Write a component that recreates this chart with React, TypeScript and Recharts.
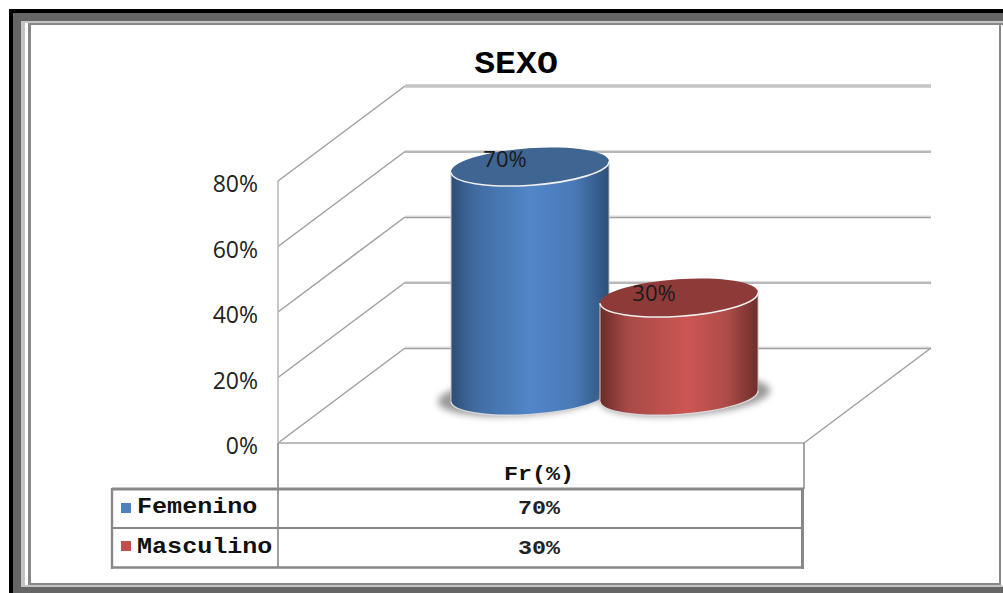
import { BarChart, Bar, XAxis, YAxis, CartesianGrid, LabelList } from 'recharts';

const categories = ['Fr(%)'];
const seriesNames = ['Femenino', 'Masculino'];
const femeninoValues = [70];
const masculinoValues = [30];
const yTicks = [0, 20, 40, 60, 80];

const chartData = categories.map((name, i) => ({
  name,
  Femenino: femeninoValues[i],
  Masculino: masculinoValues[i],
}));

const MONO = '"Liberation Mono", monospace';
const SANS = '"Open Sans", sans-serif';

// depth of the 3D box, measured from the front plane to the back wall
const WALL_DX = 127;
const WALL_DY = -95;
// cylinders stand in the middle of the floor
const CYL_DX = 63;
const CYL_DY = -47;
const TILT = -4;

const tiltRad = (TILT * Math.PI) / 180;

// horizontal grid line: runs up the side wall, then along the back wall
function WallLine({ y1 }: any) {
  const y = y1;
  const top = y < 200;
  const backY = y + WALL_DY;
  return (
    <g>
      <line x1={278} y1={y} x2={278 + WALL_DX} y2={backY} stroke="#a0a0a0" strokeWidth={1.5} />
      {top ? (
        <line x1={278 + WALL_DX} y1={backY} x2={804 + WALL_DX} y2={backY} stroke="#c4c4c4" strokeWidth={3.5} />
      ) : (
        <>
          <line x1={278 + WALL_DX} y1={backY - 1} x2={804 + WALL_DX} y2={backY - 1} stroke="#dcdcdc" strokeWidth={1} />
          <line x1={278 + WALL_DX} y1={backY + 0.5} x2={804 + WALL_DX} y2={backY + 0.5} stroke="#a0a0a0" strokeWidth={1.6} />
        </>
      )}
    </g>
  );
}

function ValueTick({ y, payload }: any) {
  return (
    <text x={258} y={y + 2} textAnchor="end" dominantBaseline="central" fontFamily={SANS} fontSize={23} fill="#222">
      {payload.value}%
    </text>
  );
}

// Liberation Mono is narrower than the slab mono used in the table, so it gets widened
function MonoText({ x, y, size, stretch, anchor = 'middle', fill = '#111', children }: any) {
  return (
    <text
      transform={`translate(${x} ${y}) scale(${stretch} 1)`}
      textAnchor={anchor}
      dominantBaseline="central"
      fontFamily={MONO}
      fontWeight="bold"
      fontSize={size}
      fill={fill}
    >
      {children}
    </text>
  );
}

function CategoryTick({ x, payload }: any) {
  return (
    <MonoText x={x - 2} y={475} size={20} stretch={1.167}>
      {payload.value}
    </MonoText>
  );
}

function Cylinder(props: any) {
  const { x, y, width, height, id, stops, cap, shadowDx } = props;
  const cx = x + width / 2 + CYL_DX;
  const topY = y + CYL_DY;
  const baseY = y + height + CYL_DY;
  const rx = width / 2 / Math.cos(tiltRad);
  const ry = 18.5;
  const rise = rx * Math.sin(tiltRad);
  const left = cx - width / 2;
  const right = cx + width / 2;
  const bottomArc = `M${left} ${baseY - rise} A${rx} ${ry} ${TILT} 0 0 ${right} ${baseY + rise}`;
  const frontArc = `M${left} ${topY - rise} A${rx} ${ry} ${TILT} 0 0 ${right} ${topY + rise}`;
  const body = `M${left} ${topY - rise} L${left} ${baseY - rise} A${rx} ${ry} ${TILT} 0 0 ${right} ${baseY + rise} L${right} ${topY + rise} Z`;
  return (
    <g>
      <defs>
        <linearGradient id={id} x1="0" y1="0" x2="1" y2="0">
          {stops.map((s: any) => (
            <stop key={s[0]} offset={s[0]} stopColor={s[1]} />
          ))}
        </linearGradient>
        <filter id={`${id}-blur`} x="-20%" y="-50%" width="140%" height="200%">
          <feGaussianBlur stdDeviation={3.5} />
        </filter>
      </defs>
      <ellipse
        cx={cx + shadowDx}
        cy={baseY}
        rx={rx + 6}
        ry={ry + 1}
        fill="#999"
        filter={`url(#${id}-blur)`}
        transform={`rotate(${TILT} ${cx + shadowDx} ${baseY})`}
      />
      <path d={body} fill={`url(#${id})`} />
      <line x1={left} y1={topY - rise} x2={left} y2={baseY - rise} stroke="#c8c8c8" strokeWidth={1} />
      <line x1={right} y1={topY + rise} x2={right} y2={baseY + rise} stroke="#b8b8b8" strokeWidth={1} />
      <path d={bottomArc} fill="none" stroke="#d8d8d8" strokeWidth={1.5} />
      <ellipse cx={cx} cy={topY} rx={rx} ry={ry} fill={cap} transform={`rotate(${TILT} ${cx} ${topY})`} />
      <path d={frontArc} fill="none" stroke="#f0f0f0" strokeWidth={1.6} />
    </g>
  );
}

const blueStops = [[0, '#2c4d75'], [0.14, '#3f6a9f'], [0.5, '#5186c9'], [0.78, '#4a7ab6'], [1, '#2d4f78']];
const redStops = [[0, '#6b2b29'], [0.18, '#a84a47'], [0.55, '#cc5653'], [0.8, '#ad4c49'], [1, '#6e2e2c']];

function CapLabel({ x, y, width, value, dy }: any) {
  return (
    <text
      x={x + width / 2 + CYL_DX - 25}
      y={y + CYL_DY + dy}
      textAnchor="middle"
      dominantBaseline="central"
      fontFamily={SANS}
      fontSize={22}
      fill="#1a1a1a"
    >
      {value}%
    </text>
  );
}

function DataTable() {
  const rows = [
    { label: seriesNames[0], value: femeninoValues[0], color: '#4f81bd', swatchY: 503, textY: 507 },
    { label: seriesNames[1], value: masculinoValues[0], color: '#c0504d', swatchY: 541, textY: 547 },
  ];
  const line = '#888';
  return (
    <g>
      <line x1={278} y1={443} x2={804} y2={443} stroke="#bbb" strokeWidth={2} />
      <line x1={804} y1={443} x2={931} y2={348} stroke="#a0a0a0" strokeWidth={1.5} />
      <line x1={278} y1={443} x2={278} y2={568} stroke={line} strokeWidth={1.6} />
      <line x1={278} y1={181} x2={278} y2={443} stroke="#bbb" strokeWidth={1.6} />
      <line x1={804} y1={443} x2={804} y2={489} stroke={line} strokeWidth={1.5} />
      <line x1={112} y1={489} x2={804} y2={489} stroke={line} strokeWidth={3.2} />
      <line x1={112} y1={528} x2={804} y2={528} stroke={line} strokeWidth={2} />
      <line x1={112} y1={567.5} x2={804} y2={567.5} stroke={line} strokeWidth={2.6} />
      <line x1={112} y1={488} x2={112} y2={569} stroke={line} strokeWidth={2.4} />
      <line x1={802.5} y1={488} x2={802.5} y2={569} stroke={line} strokeWidth={3} />
      {rows.map((r) => (
        <g key={r.label}>
          <rect x={121} y={r.swatchY} width={10} height={10} fill={r.color} />
          <MonoText x={137} y={r.textY} size={22} stretch={1.14} anchor="start">
            {r.label}
          </MonoText>
          <MonoText x={539} y={r.textY + 2} size={20} stretch={1.167} fill="#222">
            {r.value}%
          </MonoText>
        </g>
      ))}
    </g>
  );
}

function Frame() {
  const band = (left: number, top: number, width: number, height: number, background: string) => (
    <div style={{ position: 'absolute', left, top, width, height, background }} />
  );
  return (
    <>
      {band(9, 9, 994, 4, '#000')}
      {band(9, 9, 4, 584, '#000')}
      {band(13, 13, 990, 8, '#666')}
      {band(13, 13, 8, 580, '#666')}
      {band(13, 587, 990, 6, '#666')}
      {band(21, 21, 982, 2, '#c4c4c4')}
      {band(21, 21, 4, 566, '#c4c4c4')}
      {band(21, 585, 982, 2, '#c4c4c4')}
      {band(28, 23, 975, 2, '#888')}
      {band(28, 23, 3, 562, '#888')}
      {band(28, 583, 973, 2, '#888')}
      {band(999, 23, 2, 562, '#888')}
    </>
  );
}

export default function App() {
  return (
    <div style={{ position: 'absolute', left: 0, top: 0, width: 1003, height: 593, background: '#fff', overflow: 'hidden' }}>
      <Frame />
      <div style={{ position: 'absolute', left: 0, top: 0 }}>
        <BarChart
          width={1003}
          height={593}
          data={chartData}
          margin={{ top: 181, right: 199, bottom: 120, left: 198 }}
          barSize={158}
          barGap={-9}
        >
          <CartesianGrid vertical={false} syncWithTicks horizontal={(p: any) => <WallLine key={p.index} {...p} />} />
          <XAxis dataKey="name" height={30} axisLine={false} tickLine={false} tick={<CategoryTick />} />
          <YAxis width={80} domain={[0, 80]} ticks={yTicks} axisLine={false} tickLine={false} tick={<ValueTick />} interval={0} />
          <DataTable />
          <MonoText x={516} y={64} size={32} stretch={1.09} fill="#000">
            SEXO
          </MonoText>
          <Bar
            dataKey={seriesNames[0]}
            isAnimationActive={false}
            fill="#4f81bd"
            shape={(p: any) => <Cylinder {...p} id="cyl-fem" stops={blueStops} cap="#3f6592" shadowDx={-7} />}
          >
            <LabelList dataKey={seriesNames[0]} content={<CapLabel dy={-9} />} />
          </Bar>
          <Bar
            dataKey={seriesNames[1]}
            isAnimationActive={false}
            fill="#c0504d"
            shape={(p: any) => <Cylinder {...p} id="cyl-mas" stops={redStops} cap="#8e3a38" shadowDx={6} />}
          >
            <LabelList dataKey={seriesNames[1]} content={<CapLabel dy={-6} />} />
          </Bar>
        </BarChart>
      </div>
    </div>
  );
}
